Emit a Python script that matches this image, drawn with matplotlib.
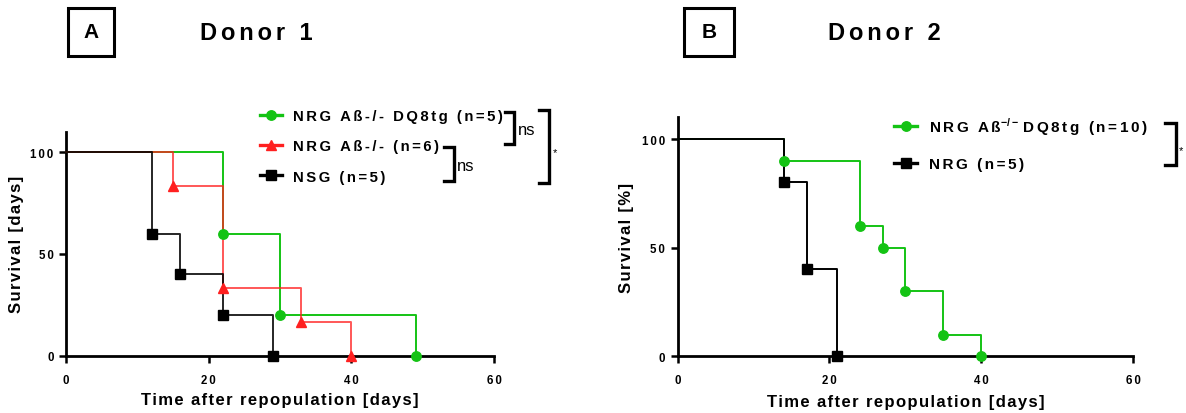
import matplotlib
matplotlib.use('Agg')
import matplotlib.pyplot as plt
from matplotlib.lines import Line2D
from matplotlib.patches import Rectangle

plt.rcParams['font.family'] = ['Liberation Sans', 'DejaVu Sans']
plt.rcParams['mathtext.fontset'] = 'custom'
plt.rcParams['mathtext.rm'] = 'Liberation Sans:bold'

# ---- data: Kaplan-Meier steps (time in days, survival in %) ----
# Donor 1
d1_dq8_t = [0, 22, 30, 49]
d1_dq8_s = [100, 60, 20, 0]
d1_ab_t = [0, 15, 22, 33, 40]
d1_ab_s = [100, 83.3, 33.3, 16.7, 0]
d1_nsg_t = [0, 12, 16, 22, 29]
d1_nsg_s = [100, 60, 40, 20, 0]
d1_labels = ['NRG A\u00df-/- DQ8tg (n=5)', 'NRG A\u00df-/- (n=6)', 'NSG (n=5)']

# Donor 2
d2_dq8_t = [0, 14, 24, 27, 30, 35, 40]
d2_dq8_s = [100, 90, 60, 50, 30, 10, 0]
d2_nrg_t = [0, 14, 17, 21]
d2_nrg_s = [100, 80, 40, 0]
d2_labels = [('NRG A\u00df', '-/-', 'DQ8tg (n=10)'), 'NRG (n=5)']

xticks = [0, 20, 40, 60]
yticks = [0, 50, 100]

GREEN = '#14c314'
RED = '#ff2020'
BLACK = '#000000'

# wide letter spacing like the original (Prism export)
SIX = '\u2006'
HAIR = '\u200a'


def spaced(s, gap):
    return gap.join(s)


fig = plt.figure(figsize=(11.86, 4.14), dpi=100)
axA = fig.add_axes([0.05565, 0.13841, 0.36088, 0.54106])
axB = fig.add_axes([0.57142, 0.13696, 0.3839, 0.57729])


def km(ax, t, s, color, marker, ms, alpha=1.0, z=3):
    ax.step(t, s, where='post', color=color, lw=1.4, alpha=alpha, zorder=z, clip_on=False)
    ax.plot(t[1:], s[1:], ls='none', marker=marker, color=color, ms=ms, zorder=z + 1, clip_on=False)
    return Line2D([], [], color=color, lw=2.4, marker=marker, ms=ms)


def style(ax, ylabel, xlab_y):
    ax.set_xlim(0, 60)
    ax.set_ylim(0, 110)
    ax.set_xticks(xticks)
    ax.set_yticks(yticks)
    ax.set_xticklabels([spaced(str(v), SIX) for v in xticks], fontweight='bold', fontsize=8.3)
    ax.set_yticklabels([spaced(str(v), SIX) for v in yticks], fontweight='bold', fontsize=8.3)
    for sp in ['top', 'right']:
        ax.spines[sp].set_visible(False)
    for sp in ['left', 'bottom']:
        ax.spines[sp].set_linewidth(2.0)
    ax.tick_params(width=1.8, length=5)
    ax.tick_params(axis='x', pad=8)
    ax.tick_params(axis='y', pad=4)
    ax.set_xlabel(spaced('Time after repopulation [days]', HAIR), fontsize=12, fontweight='bold')
    ax.set_ylabel(spaced(ylabel, HAIR), fontsize=12, fontweight='bold')
    ax.xaxis.label.set_va('center')
    ax.yaxis.label.set_va('center')
    ax.xaxis.set_label_coords(0.5, xlab_y)


# panel A
hA = [km(axA, d1_dq8_t, d1_dq8_s, GREEN, 'o', 6.8),
      km(axA, d1_ab_t, d1_ab_s, RED, '^', 7, alpha=0.75),
      km(axA, d1_nsg_t, d1_nsg_s, BLACK, 's', 6.5, alpha=0.85)]
style(axA, 'Survival [days]', -0.197)
axA.yaxis.set_label_coords(-0.115, 0.5)
axA.legend(hA, [spaced(s, SIX) for s in d1_labels], loc='upper left',
           bbox_to_anchor=(0.2192, 0.7343), bbox_transform=fig.transFigure,
           frameon=False, handlelength=1.5, handletextpad=0.75, labelspacing=1.1,
           borderpad=0, borderaxespad=0, prop={'weight': 'bold', 'size': 10.7})

# panel B
hB = [km(axB, d2_dq8_t, d2_dq8_s, GREEN, 'o', 6.8),
      km(axB, d2_nrg_t, d2_nrg_s, BLACK, 's', 6.5)]
style(axB, 'Survival [%]', -0.19)
axB.yaxis.set_label_coords(-0.112, 0.5)
pre, sup, post = d2_labels[0]
labB = [spaced(pre, SIX) + r'$^{\mathregular{' + sup + '}}$' + SIX + spaced(post, SIX),
        spaced(d2_labels[1], SIX)]
axB.legend(hB, labB, loc='upper left', bbox_to_anchor=(0.754, 0.7193),
           bbox_transform=fig.transFigure, frameon=False,
           handlelength=1.5, handletextpad=0.75, labelspacing=1.35,
           borderpad=0, borderaxespad=0, prop={'weight': 'bold', 'size': 11})

W, H = 1186.0, 414.0


def bracket(x, y0, y1, stub, text, tx, ty, fs):
    xs = [(x - stub) / W, x / W, x / W, (x - stub) / W]
    ys = [1 - y0 / H, 1 - y0 / H, 1 - y1 / H, 1 - y1 / H]
    fig.add_artist(Line2D(xs, ys, color='black', lw=2.4, solid_joinstyle='miter'))
    fig.text(tx / W, 1 - ty / H, text, fontsize=fs, va='center', ha='left')


bracket(514.3, 112.7, 145.3, 9.5, 'ns', 517.5, 130.7, 12)
bracket(454, 148.3, 181.7, 9.5, 'ns', 456.5, 166.7, 12)
bracket(549.3, 110.7, 184.3, 10, '*', 553, 153, 8)
bracket(1175.7, 124.3, 165.7, 10.5, '*', 1179, 151, 8)


def header(x0, x1, letter, title, tx):
    fig.add_artist(Rectangle((x0 / W, 1 - 57 / H), (x1 - x0) / W, 48.5 / H,
                             transform=fig.transFigure, fill=False, lw=2.2, ec='black'))
    fig.text((x0 + x1) / 2 / W, 1 - 33 / H, letter, fontsize=15, fontweight='bold',
             ha='center', va='center')
    fig.text(tx / W, 1 - 34 / H, spaced(title, SIX), fontsize=17, fontweight='bold',
             ha='center', va='center')


header(67.5, 114, 'A', 'Donor 1', 256.5)
header(683.5, 734, 'B', 'Donor 2', 884)

fig.savefig('out.png', dpi=100)
